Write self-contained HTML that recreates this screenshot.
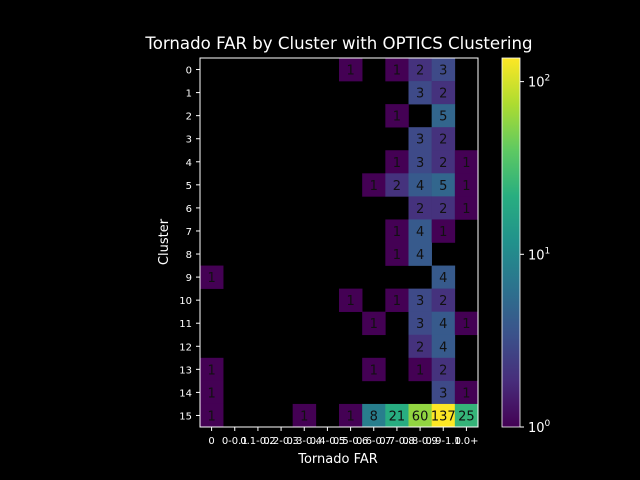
<!DOCTYPE html>
<html><head><meta charset="utf-8"><style>
html,body{margin:0;padding:0;background:#000;width:640px;height:480px;overflow:hidden;}
svg{display:block;}
svg text{font-family:"DejaVu Sans","Liberation Sans",sans-serif;}
</style></head><body>
<svg id="chart" width="640" height="480" xmlns="http://www.w3.org/2000/svg">
<defs><linearGradient id="vg" x1="0" y1="1" x2="0" y2="0">
<stop offset="0" stop-color="#440154"/><stop offset="0.125" stop-color="#472d7b"/><stop offset="0.25" stop-color="#3b528b"/><stop offset="0.375" stop-color="#2c728e"/><stop offset="0.5" stop-color="#21918c"/><stop offset="0.625" stop-color="#28ae80"/><stop offset="0.75" stop-color="#5ec962"/><stop offset="0.875" stop-color="#addc30"/><stop offset="1" stop-color="#fde725"/></linearGradient></defs>
<rect width="640" height="480" fill="#000"/>
<text x="339" y="49" fill="#fff" font-size="16.6" text-anchor="middle">Tornado FAR by Cluster with OPTICS Clustering</text>
<g id="cells"></g>
<rect x="200" y="58" width="278" height="369" fill="none" stroke="#fff" stroke-width="1"/>
<g id="axes"></g>
<text x="338" y="463" fill="#fff" font-size="13" text-anchor="middle">Tornado FAR</text>
<text x="168" y="242" fill="#fff" font-size="13" text-anchor="middle" transform="rotate(-90 168 242)">Cluster</text>
<rect x="502" y="58" width="18" height="369" fill="url(#vg)" stroke="#fff" stroke-width="0.8"/>
<g id="cbar"></g>
</svg>
<script>
const categories = ["0","0-0.1","0.1-0.2","0.2-0.3","0.3-0.4","0.4-0.5","0.5-0.6","0.6-0.7","0.7-0.8","0.8-0.9","0.9-1.0","1.0+"];
const clusters = [0,1,2,3,4,5,6,7,8,9,10,11,12,13,14,15];
const counts = [
[0,0,0,0,0,0,1,0,1,2,3,0],
[0,0,0,0,0,0,0,0,0,3,2,0],
[0,0,0,0,0,0,0,0,1,0,5,0],
[0,0,0,0,0,0,0,0,0,3,2,0],
[0,0,0,0,0,0,0,0,1,3,2,1],
[0,0,0,0,0,0,0,1,2,4,5,1],
[0,0,0,0,0,0,0,0,0,2,2,1],
[0,0,0,0,0,0,0,0,1,4,1,0],
[0,0,0,0,0,0,0,0,1,4,0,0],
[1,0,0,0,0,0,0,0,0,0,4,0],
[0,0,0,0,0,0,1,0,1,3,2,0],
[0,0,0,0,0,0,0,1,0,3,4,1],
[0,0,0,0,0,0,0,0,0,2,4,0],
[1,0,0,0,0,0,0,1,0,1,2,0],
[1,0,0,0,0,0,0,0,0,0,3,1],
[1,0,0,0,1,0,1,8,21,60,137,25]
];
const cbarTicks = [1,10,100];
const NS="http://www.w3.org/2000/svg";
const X0=200,X1=478,Y0=58,Y1=427;
let vmax=1;counts.forEach(r=>r.forEach(v=>{if(v>vmax)vmax=v;}));
const cw=(X1-X0)/categories.length, ch=(Y1-Y0)/clusters.length;
const xs=i=>X0+i*cw, ys=j=>Y0+j*ch;
const cy=v=>Y1-(Math.log10(v)/Math.log10(vmax))*(Y1-Y0);
const stops=["#440154","#472d7b","#3b528b","#2c728e","#21918c","#28ae80","#5ec962","#addc30","#fde725"].map(h=>[1,3,5].map(k=>parseInt(h.substr(k,2),16)));
function color(v){let t=Math.log10(v)/Math.log10(vmax);t=Math.max(0,Math.min(1,t));const p=t*(stops.length-1),i=Math.min(Math.floor(p),stops.length-2),f=p-i;
return "rgb("+stops[i].map((c,k)=>Math.round(c+(stops[i+1][k]-c)*f)).join(",")+")";}
function mk(tag,attrs,parent,txt){const e=document.createElementNS(NS,tag);for(const k in attrs)e.setAttribute(k,attrs[k]);if(txt!==undefined)e.textContent=txt;parent.appendChild(e);return e;}
const cells=document.getElementById('cells'),axes=document.getElementById('axes'),cb=document.getElementById('cbar');
counts.forEach((row,j)=>row.forEach((v,i)=>{if(!v)return;
const r=mk('rect',{x:xs(i),y:ys(j),width:cw+0.3,height:ch+0.3,fill:color(v)},cells);


const t=mk('text',{x:xs(i)+cw/2,y:ys(j)+ch/2+5,'font-size':13,'text-anchor':'middle',fill:'#111'},cells,String(v));


}));
categories.forEach((c,i)=>{const x=xs(i)+cw/2;
mk('line',{x1:x,x2:x,y1:Y1,y2:Y1+4,stroke:'#fff'},axes);
const t=mk('text',{x:x,y:Y1+17,'font-size':10,'text-anchor':'middle',fill:'#fff'},axes,c);

});
clusters.forEach((c,j)=>{const y=ys(j)+ch/2;
mk('line',{x1:X0-4,x2:X0,y1:y,y2:y,stroke:'#fff'},axes);
const t=mk('text',{x:X0-8,y:y+4,'font-size':10,'text-anchor':'end',fill:'#fff'},axes,String(c));

});
cbarTicks.forEach(v=>{const y=cy(v);
mk('line',{x1:520,x2:524,y1:y,y2:y,stroke:'#fff'},cb);
const t=mk('text',{x:528,y:y+5,'font-size':13,fill:'#fff'},cb);
mk('tspan',{},t,'10');mk('tspan',{dy:-6,'font-size':9},t,String(Math.round(Math.log10(v))));

});
</script>
</body></html>
